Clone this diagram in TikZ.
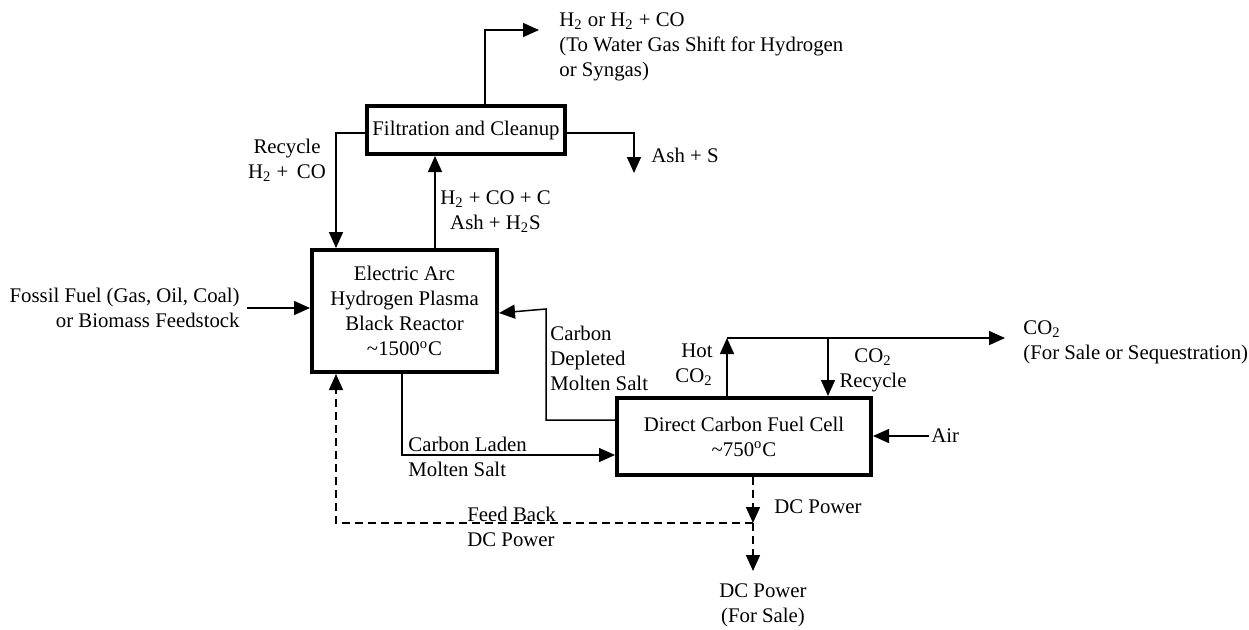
\documentclass[tikz,border=0pt]{standalone}
\usepackage{fontspec}
\setmainfont{Liberation Serif}
\usetikzlibrary{positioning, arrows.meta, calc}

\begin{document}
\begin{tikzpicture}[
  x=0.5pt, y=-0.5pt,
  font=\fontsize{10.4}{12.5}\selectfont,
  unit/.style={
    draw=black, line width=2pt, fill=white,
    align=center, inner sep=2pt
  },
  lbl/.style={align=center, inner sep=2pt},
  arr/.style={-{Triangle[length=8pt, width=7pt]}, line width=0.75pt},
  darr/.style={arr, dash pattern=on 4pt off 2.5pt},
]
\useasboundingbox (0,0) rectangle (1249,629);

% ===== Process units =====
\node[unit, minimum width=92.5pt, minimum height=61pt] (reactor) at (404.5,311)
  {Electric Arc\\Hydrogen Plasma\\Black Reactor\\\textasciitilde1500\textsuperscript{o}C};

\node[unit, minimum width=99pt, minimum height=24pt] (filt) at (466,130)
  {Filtration and Cleanup};

\node[unit, minimum width=127pt, minimum height=38.5pt] (fc) at (744,436.5)
  {Direct Carbon Fuel Cell\\\textasciitilde750\textsuperscript{o}C};

% ===== Stream labels =====
\node[lbl, align=right, anchor=east, inner sep=3.5pt] (fossil) at (247,308)
  {Fossil Fuel (Gas, Oil, Coal)\\or Biomass Feedstock};
\node[lbl] (rcy) at (287,160) {Recycle\\H\textsubscript{2} + \,CO};
\node[lbl] (crude) at (495.5,212) {H\textsubscript{2} + CO + C\\Ash + H\textsubscript{2}S};
\node[lbl, align=left, anchor=north west] (h2out) at (555,8)
  {H\textsubscript{2} or H\textsubscript{2} + CO\\(To Water Gas Shift for Hydrogen\\or Syngas)};
\node[lbl, anchor=west] (ash) at (647,155) {Ash + S};
\node[lbl, align=left, anchor=west] (depl) at (546,358) {Carbon\\Depleted\\Molten Salt};
\node[lbl, align=left, anchor=west] (laden) at (404,457) {Carbon Laden\\Molten Salt};
\node[lbl, align=right, anchor=east] (hot) at (717,365) {Hot\\CO\textsubscript{2}};
\node[lbl] (co2rcy) at (873,370) {CO\textsubscript{2}\\Recycle};
\node[lbl, align=left, anchor=west] (co2out) at (1019,342)
  {CO\textsubscript{2}\\(For Sale or Sequestration)};
\node[lbl, anchor=west, inner sep=1pt] (air) at (929,436) {Air};
\node[lbl, anchor=west] (dcp) at (770,507) {DC Power};
\node[lbl, align=left, anchor=west] (fbk) at (463,527) {Feed Back\\DC Power};
\node[lbl] (dcsale) at (763,605) {DC Power\\(For Sale)};

% ===== Junctions and free ends =====
\coordinate (h2tip) at (539,30);
\coordinate (ashtip) at (634,173);
\coordinate (co2j) at (727,338);
\coordinate (recj) at (828,338);
\coordinate (co2tip) at (1005,338);
\coordinate (dcj) at (753,523);

% ===== Solid streams =====
\draw[arr] (fossil.east) -- (fossil.east -| reactor.west);
\draw[arr] ([xshift=15.25pt]reactor.north) -- ([xshift=15.25pt]reactor.north |- filt.south);
\draw[arr] ([xshift=9.5pt]filt.north) |- (h2tip);
\draw[arr] ([yshift=-1.5pt]filt.east) -| (ashtip);
\draw[arr] ([yshift=-1.5pt]filt.west) -| ([xshift=-34.25pt]reactor.north);
\draw[arr] ([yshift=8.25pt]fc.west) -| ($(reactor.east)+(47,-2)$) -- ([yshift=-1pt]reactor.east);
\draw[arr] ([xshift=-1.25pt]reactor.south) |- ([yshift=-9.25pt]fc.west);
\draw[arr] ([xshift=-8.5pt]fc.north) -- (co2j);
\draw[arr] (co2j) -- (co2tip);
\draw[arr] (recj) -- (recj |- fc.north);
\draw[arr] (air.west) -- (air.west -| fc.east);

% ===== DC power =====
\draw[darr] ([xshift=4.5pt]fc.south) -- (dcj);
\draw[darr] (dcj) -- ([yshift=4pt]dcj |- dcsale.north);
\draw[darr] (dcj) -| ([xshift=-34.25pt]reactor.south);

\end{tikzpicture}
\end{document}
